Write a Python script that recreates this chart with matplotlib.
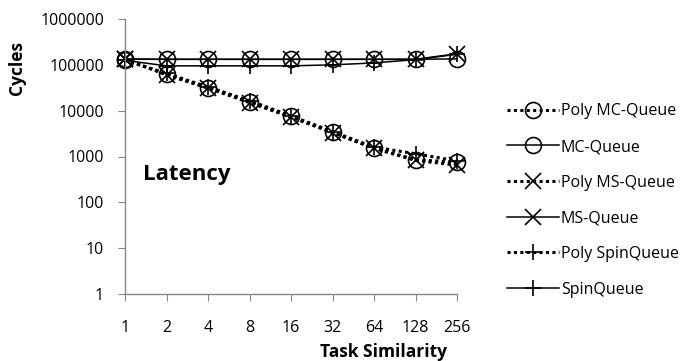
import matplotlib
matplotlib.use("Agg")
import matplotlib.pyplot as plt
import numpy as np

plt.rcParams['font.family'] = ['Open Sans', 'DejaVu Sans']

x_labels = ["1", "2", "4", "8", "16", "32", "64", "128", "256"]
poly_mc = [130000, 62000, 32000, 15500, 7500, 3400, 1550, 850, 750]
mc = [132000, 132000, 132000, 132000, 132000, 132000, 132000, 132000, 135000]
poly_ms = [135000, 60000, 31000, 15000, 7200, 3300, 1500, 820, 650]
ms = [135000, 132000, 132000, 132000, 132000, 132000, 132000, 132000, 175000]
poly_spin = [125000, 65000, 33000, 16500, 7700, 3500, 1600, 1150, 800]
spin = [125000, 95000, 95000, 95000, 95000, 100000, 110000, 130000, 170000]

series = [
    ("Poly MC-Queue", poly_mc, "o", True),
    ("MC-Queue", mc, "o", False),
    ("Poly MS-Queue", poly_ms, "x", True),
    ("MS-Queue", ms, "x", False),
    ("Poly SpinQueue", poly_spin, "+", True),
    ("SpinQueue", spin, "+", False),
]

W, H = 686, 361
fig = plt.figure(figsize=(W / 100, H / 100), dpi=100)
ax = fig.add_axes([125 / W, 1 - 294 / H, (457 - 125) / W, (294 - 19) / H])

xi = np.arange(len(x_labels))
handles = []
for name, vals, mk, dotted in series:
    if dotted:
        ls = (0, (1.0, 1.1))
        lw = 2.2
    else:
        ls = "-"
        lw = 1.1
    h, = ax.plot(xi, vals, linestyle=ls, linewidth=lw, color="black",
                 marker=mk, markersize=11.5, markerfacecolor="none",
                 markeredgecolor="black", markeredgewidth=1.2, label=name)
    h.set_clip_on(False)
    handles.append(h)

ax.set_yscale("log")
ax.set_ylim(1, 1e6)
ax.set_xlim(0, len(x_labels) - 1)
ax.set_xticks(xi)
ax.set_xticklabels(x_labels)
yt = [1, 10, 100, 1000, 10000, 100000, 1000000]
ax.set_yticks(yt)
ax.set_yticklabels([str(v) for v in yt])
ax.yaxis.set_minor_locator(matplotlib.ticker.NullLocator())

for s in ["top", "right"]:
    ax.spines[s].set_visible(False)
for s in ["left", "bottom"]:
    ax.spines[s].set_color("#868686")
    ax.spines[s].set_linewidth(1.0)
ax.tick_params(axis="x", direction="out", length=5, color="#868686",
               labelsize=11.5, pad=14)
ax.tick_params(axis="y", direction="out", length=5, color="#868686",
               labelsize=11.5, pad=10)

fig.text(17 / W, 1 - 68 / H, "Cycles", rotation=90, fontsize=12.5,
         fontweight="bold", ha="center", va="center")
fig.text(384 / W, 1 - 352 / H, "Task Similarity", fontsize=12.5,
         fontweight="bold", ha="center", va="center")
fig.text(143 / W, 1 - 174 / H, "Latency", fontsize=16,
         fontweight="bold", ha="left", va="center")

leg = fig.legend(handles=handles, loc="upper left",
                 bbox_to_anchor=(501 / W, 1 - 97 / H), frameon=False,
                 fontsize=11.5, handlelength=3.2, handletextpad=0.15,
                 labelspacing=1.23, borderaxespad=0)

fig.savefig("out.png", dpi=100)
